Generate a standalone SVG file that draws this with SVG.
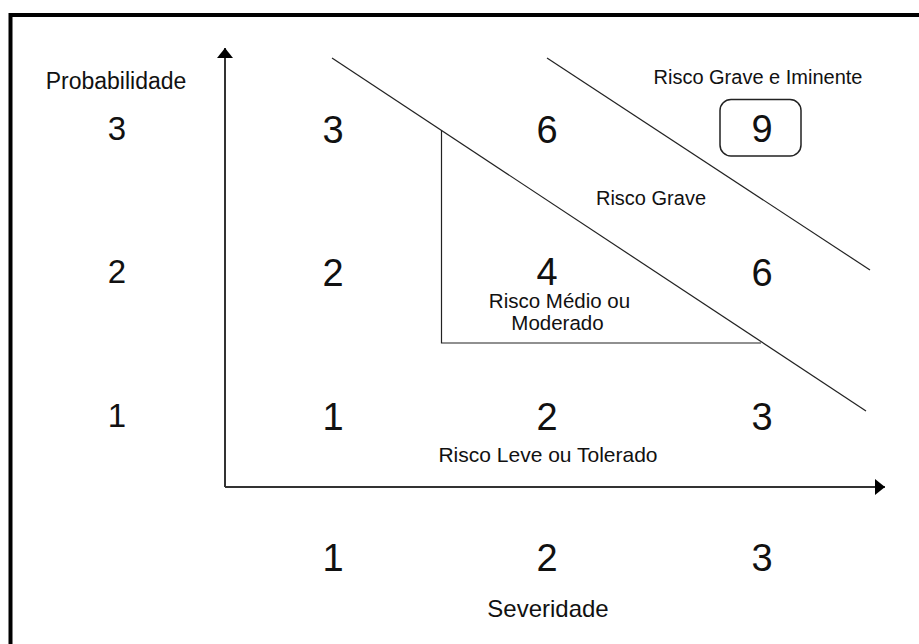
<svg xmlns="http://www.w3.org/2000/svg" width="919" height="644" viewBox="0 0 919 644">
<style>
.t{font-family:"Liberation Sans",Arial,sans-serif;fill:#111;text-anchor:middle}
.num{font-size:38px}
.ax{font-size:33px}
.lbl{font-size:20px}
.axis{stroke:#333;stroke-width:2;fill:none}
.div{stroke:#222;stroke-width:1.2;fill:none}
</style>
<defs>
<marker id="arr" viewBox="0 0 10 16" refX="10" refY="8" markerWidth="10" markerHeight="16" markerUnits="userSpaceOnUse" orient="auto">
<path d="M0,0 L10,8 L0,16 Z" fill="#000"/>
</marker>
</defs>
<rect width="919" height="644" fill="#fff"/>
<rect x="10.5" y="15" width="1000" height="1000" fill="none" stroke="#000" stroke-width="4"/>

<g id="connectors">
<line class="axis" x1="225" y1="487" x2="225" y2="48" marker-end="url(#arr)"/>
<line class="axis" x1="225" y1="487" x2="885" y2="487" marker-end="url(#arr)"/>
<line class="div" x1="332" y1="58" x2="866" y2="411"/>
<line class="div" x1="547" y1="58" x2="870" y2="270"/>
<polyline class="div" points="441.5,130 441.5,343 761,343"/>
</g>

<g id="axis-y-labels">
<text class="t" x="116" y="89" style="font-size:23px">Probabilidade</text>
<text class="t ax" x="117" y="140">3</text>
<text class="t ax" x="117" y="283">2</text>
<text class="t ax" x="117" y="427">1</text>
</g>

<g id="axis-x-labels">
<text class="t num" x="333" y="571">1</text>
<text class="t num" x="547" y="571">2</text>
<text class="t num" x="762" y="571">3</text>
<text class="t" x="548" y="617" style="font-size:24px">Severidade</text>
</g>

<g id="cells">
<text class="t num" x="333" y="143">3</text>
<text class="t num" x="547" y="143">6</text>
<text class="t num" x="333" y="286">2</text>
<text class="t num" x="547" y="285">4</text>
<text class="t num" x="762" y="286">6</text>
<text class="t num" x="333" y="430">1</text>
<text class="t num" x="547" y="430">2</text>
<text class="t num" x="762" y="430">3</text>
</g>

<g id="node-9">
<rect x="720" y="99.5" width="81" height="56.5" rx="11" fill="none" stroke="#222" stroke-width="1.5"/>
<text class="t num" x="762" y="142">9</text>
</g>

<g id="zone-iminente">
<text class="t lbl" x="758" y="84">Risco Grave e Iminente</text>
</g>
<g id="zone-grave">
<text class="t lbl" x="651" y="205">Risco Grave</text>
</g>
<g id="zone-medio">
<text class="t" x="559.5" y="308" style="font-size:20.5px">Risco Médio ou</text>
<text class="t" x="557.5" y="330" style="font-size:20.5px">Moderado</text>
</g>
<g id="zone-leve">
<text class="t" x="548" y="462" style="font-size:21px">Risco Leve ou Tolerado</text>
</g>
</svg>
